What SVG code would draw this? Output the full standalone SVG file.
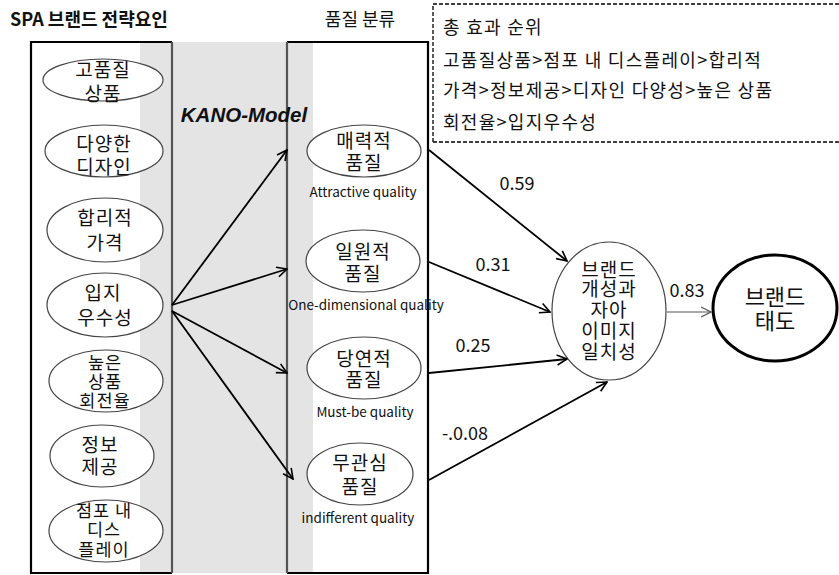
<svg xmlns="http://www.w3.org/2000/svg" width="839" height="575" viewBox="0 0 839 575">
<defs>
<marker id="arr" viewBox="0 0 12 12" refX="11" refY="6" markerWidth="12" markerHeight="12" markerUnits="userSpaceOnUse" orient="auto">
<path d="M1,1 L11,6 L1,11" fill="none" stroke="#000" stroke-width="1.6"/>
</marker>
<marker id="arrg" viewBox="0 0 12 12" refX="11" refY="6" markerWidth="12" markerHeight="12" markerUnits="userSpaceOnUse" orient="auto">
<path d="M1,1 L11,6 L1,11" fill="none" stroke="#555" stroke-width="1.2"/>
</marker>
</defs>
<style>
text{font-family:"Noto Sans CJK KR","Noto Sans",sans-serif;fill:#111;}
.k{font-size:19px;letter-spacing:1px;text-anchor:middle;}
.k3{font-size:17.5px;letter-spacing:1px;text-anchor:middle;}
.en{font-size:13.5px;text-anchor:middle;}
.num{font-size:18px;text-anchor:middle;}
.el{fill:#fff;stroke:#444;stroke-width:1.2;}
.c{stroke:#000;stroke-width:1.8;fill:none;marker-end:url(#arr);}
.side{font-size:18px;letter-spacing:1.3px;}
</style>
<rect width="839" height="575" fill="#fff"/>
<rect x="140" y="42" width="173" height="531" fill="#e4e4e4"/>
<g id="leftbox">
<path d="M172,42 L31,42 L31,573 L172,573" fill="none" stroke="#000" stroke-width="2.2"/>
<line x1="172" y1="42" x2="172" y2="573" stroke="#555" stroke-width="2.2"/>
</g>
<g id="rightbox">
<path d="M287,42 L428,42 L428,573 L287,573" fill="none" stroke="#000" stroke-width="2.2"/>
<line x1="287" y1="42" x2="287" y2="573" stroke="#555" stroke-width="2.2"/>
</g>
<text x="10" y="26" font-size="18" font-weight="bold">SPA 브랜드 전략요인</text>
<text x="360" y="26" font-size="18" text-anchor="middle">품질 분류</text>
<text x="244" y="122" font-size="20.5" font-weight="bold" font-style="italic" text-anchor="middle" style="font-family:'Liberation Sans',sans-serif">KANO-Model</text>
<g id="summary">
<path d="M433,142 L433,4 L839,4 M433,142 L839,142" fill="none" stroke="#000" stroke-width="1.3" stroke-dasharray="4,2"/>
<text class="side" x="443" y="34">총 효과 순위</text>
<text class="side" x="443" y="67">고품질상품&gt;점포 내 디스플레이&gt;합리적</text>
<text class="side" x="443" y="97">가격&gt;정보제공&gt;디자인 다양성&gt;높은 상품</text>
<text class="side" x="443" y="129">회전율&gt;입지우수성</text>
</g>
<g id="n1"><ellipse class="el" cx="103" cy="80" rx="60" ry="21"/><text class="k" x="103" y="77">고품질</text><text class="k" x="103" y="101">상품</text></g>
<g id="n2"><ellipse class="el" cx="104" cy="151" rx="59" ry="26"/><text class="k" x="104" y="151">다양한</text><text class="k" x="104" y="174">디자인</text></g>
<g id="n3"><ellipse class="el" cx="105" cy="230" rx="58" ry="32"/><text class="k" x="105" y="225">합리적</text><text class="k" x="105" y="250">가격</text></g>
<g id="n4"><ellipse class="el" cx="105" cy="305" rx="58" ry="32"/><text class="k" x="103" y="300">입지</text><text class="k" x="105" y="325">우수성</text></g>
<g id="n5"><ellipse class="el" cx="106" cy="381" rx="57" ry="31"/><text class="k3" x="105" y="369">높은</text><text class="k3" x="105" y="388">상품</text><text class="k3" x="105" y="407">회전율</text></g>
<g id="n6"><ellipse class="el" cx="102" cy="456" rx="52" ry="31"/><text class="k" x="100" y="452">정보</text><text class="k" x="100" y="474">제공</text></g>
<g id="n7"><ellipse class="el" cx="106" cy="531" rx="57" ry="31"/><text class="k3" x="104" y="517">점포 내</text><text class="k3" x="104" y="536">디스</text><text class="k3" x="104" y="556">플레이</text></g>
<g id="q1"><ellipse class="el" cx="364" cy="151" rx="57" ry="26"/><text class="k" x="364" y="148">매력적</text><text class="k" x="364" y="170">품질</text><text class="en" x="363" y="197">Attractive quality</text></g>
<g id="q2"><ellipse class="el" cx="363" cy="261" rx="57" ry="31"/><text class="k" x="363" y="259">일원적</text><text class="k" x="363" y="281">품질</text><text class="en" x="366" y="310">One-dimensional quality</text></g>
<g id="q3"><ellipse class="el" cx="364" cy="368" rx="57" ry="31"/><text class="k" x="364" y="366">당연적</text><text class="k" x="364" y="387">품질</text><text class="en" x="365" y="417">Must-be quality</text></g>
<g id="q4"><ellipse class="el" cx="360" cy="474" rx="53" ry="31"/><text class="k" x="360" y="470">무관심</text><text class="k" x="360" y="494">품질</text><text class="en" x="358" y="523">indifferent quality</text></g>
<g id="m"><ellipse cx="609" cy="311" rx="57" ry="69" fill="#fff" stroke="#444" stroke-width="1.2"/>
<text class="k" x="609" y="277">브랜드</text><text class="k" x="609" y="296">개성과</text><text class="k" x="609" y="317">자아</text><text class="k" x="609" y="338">이미지</text><text class="k" x="609" y="359">일치성</text></g>
<g id="att"><ellipse cx="775" cy="308" rx="62" ry="53" fill="#fff" stroke="#000" stroke-width="3"/>
<text x="775" y="305" font-size="22" text-anchor="middle">브랜드</text><text x="775" y="329" font-size="22" text-anchor="middle">태도</text></g>
<g id="connectors">
<line class="c" x1="172" y1="305" x2="287" y2="150"/>
<line class="c" x1="172" y1="305" x2="287" y2="269"/>
<line class="c" x1="172" y1="311" x2="287" y2="373"/>
<line class="c" x1="172" y1="311" x2="293" y2="479"/>
<line class="c" x1="429" y1="150" x2="567" y2="261"/>
<line class="c" x1="429" y1="262" x2="550" y2="312"/>
<line class="c" x1="429" y1="373" x2="567" y2="359"/>
<line class="c" x1="429" y1="480" x2="607" y2="382"/>
<line x1="667" y1="312" x2="711" y2="312" stroke="#555" stroke-width="1.2" marker-end="url(#arrg)"/>
</g>
<text class="num" x="517" y="190">0.59</text>
<text class="num" x="493" y="271">0.31</text>
<text class="num" x="473" y="352">0.25</text>
<text class="num" x="465" y="440">-.0.08</text>
<text class="num" x="687" y="297">0.83</text>
</svg>
